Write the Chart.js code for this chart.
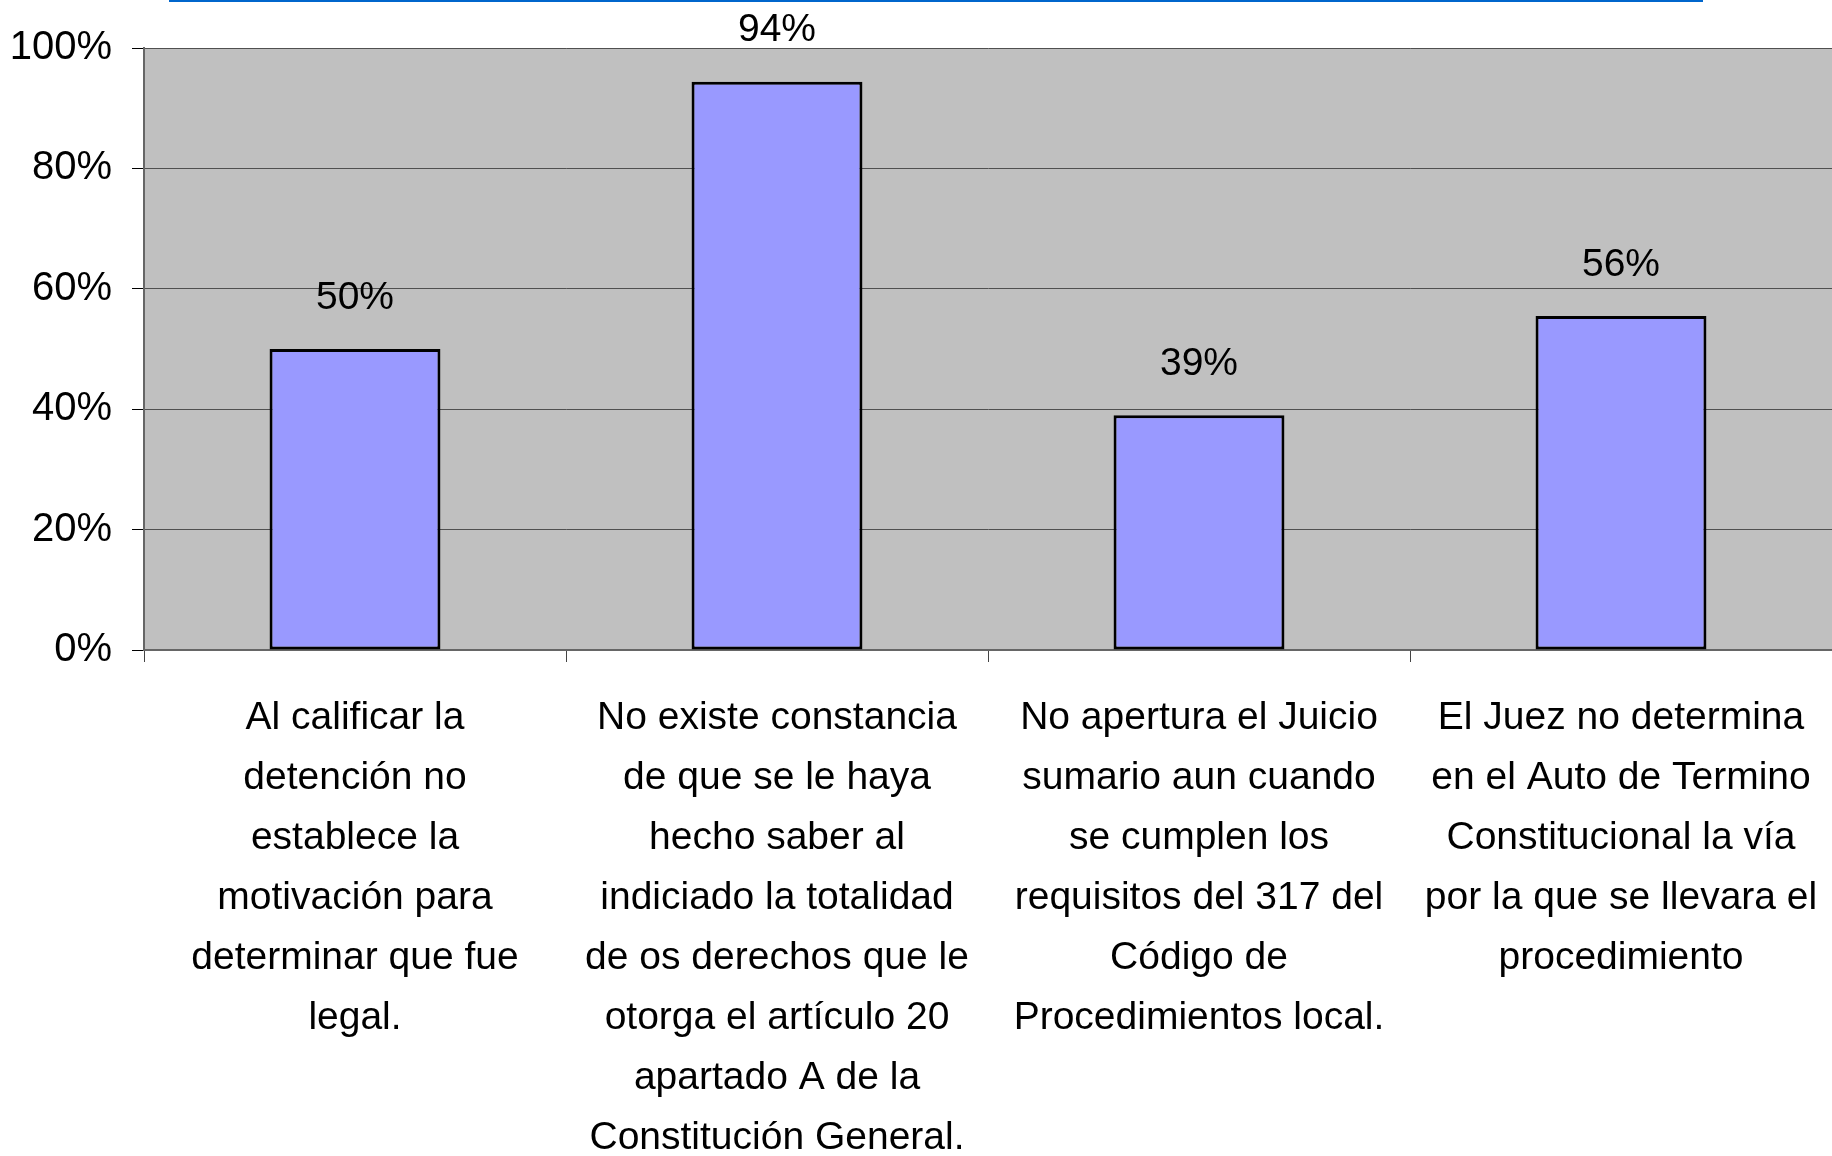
<!DOCTYPE html>
<html lang="es">
<head>
<meta charset="utf-8">
<title>Gráfica</title>
<script src="https://cdn.jsdelivr.net/npm/chart.js@4/dist/chart.umd.min.js"></script>
<style>
  html, body { margin: 0; padding: 0; background: #fff; }
  #wrap { position: relative; width: 1832px; height: 1156px; overflow: hidden; }
  #topline { position: absolute; left: 169px; top: 0; width: 1534px; height: 2px; background: #0066cc; }
</style>
</head>
<body>
<div id="wrap">
  <canvas id="chart"></canvas>
  <div id="topline"></div>
</div>
<script>
// categories (line breaks as in the original slide)
const categories = [
  ["Al calificar la", "detención no", "establece la", "motivación para", "determinar que fue", "legal."],
  ["No existe constancia", "de que se le haya", "hecho saber al", "indiciado la totalidad", "de os derechos que le", "otorga el artículo 20", "apartado A de la", "Constitución General."],
  ["No apertura el Juicio", "sumario aun cuando", "se cumplen los", "requisitos del 317 del", "Código de", "Procedimientos local."],
  ["El Juez no determina", "en el Auto de Termino", "Constitucional la vía", "por la que se llevara el", "procedimiento"],
];
const values = [0.50, 0.944, 0.39, 0.555];
const yTicks = [0, 0.2, 0.4, 0.6, 0.8, 1.0];

const FONT = "'Liberation Sans', Arial, sans-serif";
const pct = (v) => Math.round(v * 100) + "%";

// grey plot area behind the bars
const plotBg = {
  id: "plotBg",
  beforeDraw(chart) {
    const { ctx, chartArea: a } = chart;
    ctx.save();
    ctx.fillStyle = "#c0c0c0";
    ctx.fillRect(a.left, a.top, a.right - a.left, a.bottom - a.top);
    ctx.restore();
  },
};

// value labels above each bar
const valueLabels = {
  id: "valueLabels",
  afterDatasetsDraw(chart) {
    const { ctx } = chart;
    const meta = chart.getDatasetMeta(0);
    ctx.save();
    ctx.font = "39px " + FONT;
    ctx.fillStyle = "#000";
    ctx.textAlign = "center";
    ctx.textBaseline = "middle";
    meta.data.forEach((bar, i) => {
      ctx.fillText(pct(values[i]), bar.x, bar.y - 51);
    });
    ctx.restore();
  },
};

Chart.defaults.font.family = FONT;
Chart.defaults.color = "#000";

new Chart(document.getElementById("chart"), {
  type: "bar",
  data: {
    labels: categories,
    datasets: [
      {
        data: values,
        backgroundColor: "#9999ff",
        borderColor: "#000",
        borderWidth: 3,
        borderSkipped: false,
        barPercentage: 0.405,
        categoryPercentage: 1,
      },
    ],
  },
  options: {
    responsive: true,
    maintainAspectRatio: false,
    animation: false,
    layout: { padding: { top: 48, left: 0, right: 0, bottom: 0 } },
    plugins: { legend: { display: false }, tooltip: { enabled: false } },
    scales: {
      x: {
        offset: true,
        afterFit: (s) => {
          s.height = 506;
          s.paddingLeft = 0;
          s.paddingRight = 0;
        },
        grid: { offset: true, drawOnChartArea: false, drawTicks: true, tickLength: 12, tickColor: "#444", lineWidth: 1 },
        border: { color: "#666", width: 2 },
        ticks: {
          autoSkip: false,
          maxRotation: 0,
          minRotation: 0,
          padding: 26,
          font: { size: 39, lineHeight: "60px" },
        },
      },
      y: {
        min: 0,
        max: 1,
        afterFit: (s) => { s.width = 144; },
        afterBuildTicks: (s) => { s.ticks = yTicks.map((v) => ({ value: v })); },
        grid: { color: "#505050", lineWidth: 1, tickLength: 12, tickColor: "#000" },
        border: { color: "#666", width: 2 },
        ticks: {
          padding: 20,
          font: { size: 40 },
          callback: (v) => pct(v),
        },
      },
    },
  },
  plugins: [plotBg, valueLabels],
});
</script>
</body>
</html>
